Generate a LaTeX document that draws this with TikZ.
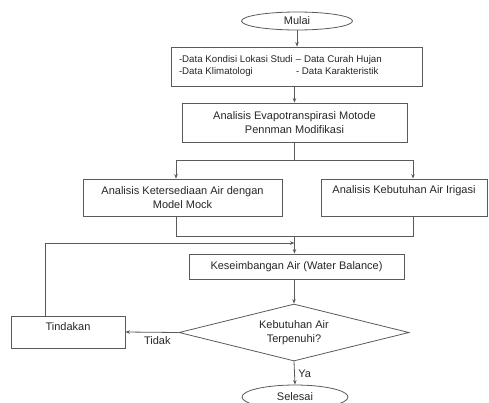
\documentclass[tikz,border=0pt]{standalone}
\usepackage{fontspec}
\setmainfont{Liberation Sans}
\usetikzlibrary{shapes.geometric,arrows.meta}
\definecolor{linegray}{HTML}{5A5A5A}
\definecolor{textgray}{HTML}{262626}
\newcommand{\boxfont}{\fontsize{11}{13.5}\selectfont}
\newcommand{\datafont}{\fontsize{9.7}{12}\selectfont}

\begin{document}
\begin{tikzpicture}[x=1pt,y=-1pt,>={Stealth[length=4.5pt,width=3.5pt]},
    box/.style={draw=linegray,line width=0.8pt,rectangle,inner sep=0pt,
        align=center,font=\boxfont,text=textgray},
    terminal/.style={draw=linegray,line width=0.8pt,ellipse,inner sep=0pt,
        font=\boxfont,text=textgray},
    decision/.style={draw=linegray,line width=0.8pt,diamond,aspect=4,
        inner sep=0pt,align=center,font=\boxfont,text=textgray},
    flow/.style={draw=linegray,line width=0.8pt},
    flowlabel/.style={font=\boxfont,text=textgray}]

% page size of the reference, 1pt per pixel
\useasboundingbox (0,0) rectangle (489,402);
\clip (0,0) rectangle (489,402);

% start and input data
\node [terminal,minimum width=111pt,minimum height=18pt] (mulai) at (297,21) {Mulai};
\node [box,minimum width=251pt,minimum height=39pt,font=\datafont] (data) at (296.5,66.5)
    {\begin{tabular}{@{}p{117pt}@{}p{118pt}@{}}
     -Data Kondisi Lokasi Studi & -- Data Curah Hujan\\
     -Data Klimatologi & - Data Karakteristik
     \end{tabular}};

% analyses
\node [box,minimum width=225pt,minimum height=39pt] (evapo) at (294.5,122.5)
    {Analisis Evapotranspirasi Motode\\Pennman Modifikasi};
\node [box,minimum width=199pt,minimum height=37pt] (mock) at (182.5,197.5)
    {Analisis Ketersediaan Air dengan\\Model Mock};
\node [box,minimum width=166pt,minimum height=37pt,text depth=15pt] (irigasi) at (404,197.5)
    {Analisis Kebutuhan Air Irigasi};

% balance and check
\node [box,minimum width=215pt,minimum height=25pt] (balance) at (296.5,266.5)
    {Keseimbangan Air (Water Balance)};
\node [decision,minimum width=230pt,minimum height=57pt] (cek) at (294,332.5)
    {Kebutuhan Air\\Terpenuhi?};
\node [box,minimum width=114pt,minimum height=32pt,text depth=10pt] (tindakan) at (68,332)
    {Tindakan};
\node [terminal,minimum width=106pt,minimum height=24pt] (selesai) at (295,397) {Selesai};

% branch points
\coordinate (split) at (294.5,160);
\coordinate (lt) at (176,160);
\coordinate (rt) at (413,160);
\coordinate (lb) at (176,236);
\coordinate (rb) at (413,236);
\coordinate (join) at (294.5,236);
\coordinate (fb) at (45,243);

% connectors
\draw [flow,->] (mulai.south) -- (mulai.south |- data.north);
\draw [flow,->] (evapo.north |- data.south) -- (evapo.north);
\draw [flow] (evapo.south) -- (split);
\draw [flow] (lt) -- (rt);
\draw [flow,->] (lt) -- (lt |- mock.north);
\draw [flow,->] (rt) -- (rt |- irigasi.north);
\draw [flow] (lt |- mock.south) -- (lb) -- (rb) -- (rt |- irigasi.south);
\draw [flow,->] (join) -- (join |- balance.north);
\draw [flow,->] (cek.north |- balance.south) -- (cek.north);
\draw [flow,->] (cek.west) -- node [flowlabel,below,pos=0.4] {Tidak} (tindakan.east);
\draw [flow,->] (tindakan.north -| fb) -- (fb) -- (fb -| join);
\draw [flow,->] (cek.south) -- node [flowlabel,right,pos=0.55] {Ya} (selesai.north);

\end{tikzpicture}
\end{document}
